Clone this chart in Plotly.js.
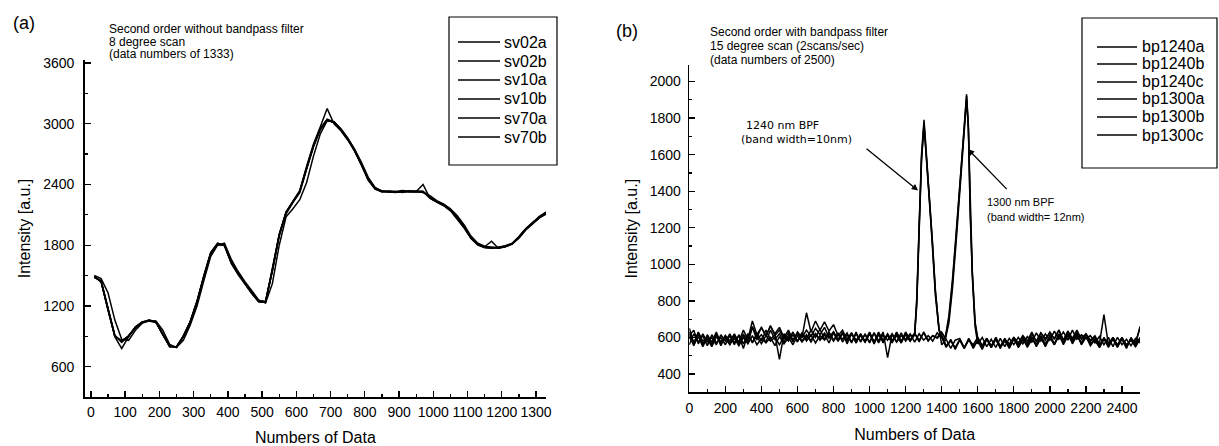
<!DOCTYPE html>
<html>
<head>
<meta charset="utf-8">
<script src="https://cdn.plot.ly/plotly-3.0.1.min.js"></script>
<style>
  html, body { margin: 0; padding: 0; background: #fff; }
  #chart { width: 1219px; height: 446px; }
</style>
</head>
<body>
<div id="chart"></div>
<script>
// ---------------- Panel (a): second order without bandpass filter ----------------
// sample positions (data numbers) for panel (a): every 20th data point from 10
const leftIndexStart = 10, leftIndexStep = 20, leftCount = 67;
const leftNames = ["sv02a", "sv02b", "sv10a", "sv10b", "sv70a", "sv70b"];

const sv02a = [1490, 1440, 1170, 900, 850, 900, 990, 1040, 1055, 1040,
               920, 800, 795, 900, 1040, 1240, 1490, 1720, 1810, 1800,
               1630, 1520, 1420, 1330, 1245, 1240, 1550, 1900, 2120, 2230,
               2330, 2560, 2780, 2950, 3040, 3010, 2940, 2850, 2740, 2600,
               2450, 2360, 2330, 2330, 2325, 2330, 2330, 2325, 2330, 2270,
               2230, 2200, 2150, 2070, 1980, 1870, 1810, 1780, 1775, 1775,
               1790, 1815, 1880, 1960, 2020, 2080, 2120];
const sv02b = [1500, 1470, 1330, 1060, 870, 860, 960, 1030, 1050, 1050,
               960, 820, 790, 860, 1010, 1200, 1450, 1690, 1800, 1820,
               1660, 1540, 1440, 1350, 1260, 1230, 1420, 1800, 2080, 2160,
               2250, 2420, 2680, 2900, 3030, 3020, 2950, 2860, 2750, 2620,
               2470, 2370, 2335, 2325, 2330, 2320, 2335, 2330, 2320, 2290,
               2240, 2205, 2160, 2090, 2000, 1890, 1820, 1790, 1780, 1770,
               1785, 1810, 1870, 1950, 2010, 2070, 2110];
const sv10a = [1480, 1450, 1180, 910, 840, 905, 985, 1035, 1060, 1045,
               915, 805, 790, 905, 1045, 1250, 1500, 1730, 1815, 1795,
               1620, 1510, 1415, 1320, 1240, 1235, 1560, 1910, 2130, 2240,
               2340, 2580, 2800, 2970, 3150, 3000, 2930, 2840, 2730, 2590,
               2440, 2355, 2325, 2335, 2330, 2340, 2330, 2330, 2400, 2265,
               2225, 2190, 2140, 2060, 1970, 1865, 1800, 1775, 1770, 1780,
               1795, 1820, 1885, 1965, 2025, 2085, 2130];
const sv10b = [1495, 1435, 1160, 895, 780, 895, 995, 1045, 1050, 1035,
               925, 795, 800, 895, 1035, 1235, 1485, 1715, 1805, 1805,
               1635, 1525, 1425, 1335, 1250, 1245, 1545, 1890, 2110, 2220,
               2320, 2550, 2770, 2940, 3030, 3020, 2945, 2855, 2745, 2605,
               2455, 2365, 2335, 2325, 2320, 2335, 2325, 2325, 2325, 2275,
               2235, 2205, 2155, 2075, 1985, 1875, 1815, 1785, 1840, 1770,
               1785, 1810, 1875, 1955, 2015, 2075, 2115];
const sv70a = [1485, 1445, 1175, 905, 855, 905, 990, 1040, 1060, 1040,
               920, 800, 790, 900, 1040, 1245, 1495, 1725, 1820, 1800,
               1625, 1515, 1420, 1325, 1240, 1240, 1555, 1905, 2125, 2235,
               2335, 2565, 2785, 2955, 3045, 3015, 2945, 2845, 2735, 2595,
               2445, 2360, 2330, 2330, 2330, 2325, 2335, 2330, 2330, 2265,
               2225, 2195, 2145, 2065, 1975, 1870, 1805, 1780, 1775, 1780,
               1790, 1815, 1880, 1960, 2020, 2080, 2125];
const sv70b = [1490, 1440, 1165, 900, 850, 900, 985, 1035, 1055, 1045,
               920, 805, 795, 900, 1040, 1240, 1490, 1720, 1810, 1800,
               1630, 1520, 1420, 1330, 1245, 1240, 1550, 1900, 2120, 2230,
               2330, 2560, 2780, 2950, 3040, 3010, 2940, 2850, 2740, 2600,
               2450, 2360, 2330, 2330, 2325, 2330, 2330, 2325, 2330, 2270,
               2230, 2200, 2150, 2070, 1980, 1870, 1810, 1780, 1775, 1775,
               1790, 1815, 1880, 1960, 2020, 2080, 2120];
const leftSeries = [sv02a, sv02b, sv10a, sv10b, sv70a, sv70b];
const leftXTicks = [0,100,200,300,400,500,600,700,800,900,1000,1100,1200,1300];
const leftYTicks = [600, 1200, 1800, 2400, 3000, 3600];

// ---------------- Panel (b): second order with bandpass filter ----------------
// baseline sampled every 25th data point from 0 to 2500
const rightIndexStep = 25, rightCount = 101;
const rightNames = ["bp1240a", "bp1240b", "bp1240c", "bp1300a", "bp1300b", "bp1300c"];

const bp1240aBase = [650, 570, 625, 560, 615, 575, 630, 565, 610, 580,
                     620, 570, 615, 585, 660, 600, 655, 605, 665, 610,
                     640, 590, 625, 575, 630, 600, 735, 630, 690, 640,
                     685, 635, 670, 610, 640, 585, 625, 570, 620, 575,
                     625, 565, 615, 580, 620, 575, 610, 570, 625, 580,
                     620, 700, 650, 600, 610, 600, 560, 590, 540, 585,
                     595, 545, 590, 540, 585, 555, 595, 545, 600, 550,
                     585, 540, 590, 555, 600, 545, 590, 560, 605, 550,
                     600, 560, 610, 570, 620, 575, 615, 565, 605, 555,
                     590, 545, 600, 550, 590, 560, 600, 545, 595, 550,
                     600];
const bp1240bBase = [610, 640, 565, 620, 575, 600, 560, 615, 580, 620,
                     570, 610, 540, 620, 570, 625, 580, 640, 590, 615,
                     480, 620, 585, 630, 580, 625, 590, 640, 600, 645,
                     590, 630, 585, 625, 575, 615, 570, 630, 575, 620,
                     570, 625, 580, 630, 490, 620, 575, 625, 580, 610,
                     600, 600, 600, 600, 600, 600, 600, 545, 590, 535,
                     585, 540, 595, 550, 580, 535, 590, 555, 595, 540,
                     590, 550, 600, 545, 585, 560, 605, 550, 595, 555,
                     615, 565, 620, 560, 610, 575, 625, 560, 600, 570,
                     580, 550, 595, 545, 600, 555, 590, 540, 600, 560,
                     595];
const bp1240cBase = [600, 565, 630, 580, 600, 560, 620, 575, 610, 560,
                     615, 575, 640, 590, 690, 615, 655, 610, 660, 620,
                     655, 600, 640, 585, 625, 580, 615, 575, 620, 585,
                     615, 570, 625, 580, 630, 565, 620, 585, 610, 575,
                     625, 570, 630, 580, 615, 575, 625, 570, 615, 580,
                     600, 600, 600, 600, 600, 600, 610, 555, 580, 545,
                     590, 540, 585, 560, 600, 545, 595, 550, 590, 545,
                     580, 555, 595, 550, 590, 555, 600, 560, 610, 565,
                     605, 560, 615, 570, 625, 565, 610, 570, 620, 560,
                     595, 545, 590, 560, 600, 550, 595, 555, 590, 575,
                     650];
const bp1300aBase = [630, 560, 605, 550, 600, 565, 615, 555, 605, 570,
                     595, 555, 600, 565, 610, 560, 595, 570, 600, 555,
                     605, 565, 600, 560, 610, 575, 605, 585, 620, 590,
                     625, 595, 630, 590, 625, 580, 620, 585, 615, 575,
                     620, 575, 625, 570, 615, 580, 625, 575, 630, 585,
                     620, 585, 625, 580, 610, 600, 630, 600, 600, 600,
                     600, 600, 600, 600, 600, 555, 595, 545, 590, 550,
                     595, 550, 600, 560, 605, 565, 620, 580, 625, 585,
                     630, 590, 640, 585, 635, 595, 640, 590, 620, 585,
                     610, 565, 725, 560, 600, 550, 595, 560, 585, 550,
                     590];
const bp1300bBase = [560, 620, 575, 610, 555, 615, 570, 600, 560, 610,
                     560, 615, 565, 620, 575, 605, 565, 610, 580, 600,
                     560, 605, 580, 615, 575, 625, 580, 615, 570, 610,
                     585, 620, 580, 615, 590, 625, 575, 620, 580, 615,
                     575, 625, 570, 615, 585, 620, 575, 610, 590, 620,
                     575, 620, 585, 610, 580, 625, 600, 600, 600, 600,
                     600, 600, 600, 600, 565, 600, 550, 590, 545, 595,
                     550, 595, 560, 600, 565, 605, 575, 625, 580, 620,
                     585, 635, 590, 630, 585, 640, 590, 615, 595, 610,
                     570, 605, 560, 600, 550, 600, 560, 590, 555, 595,
                     570];
const bp1300cBase = [610, 555, 620, 565, 590, 550, 605, 570, 595, 560,
                     610, 560, 615, 570, 655, 590, 615, 575, 640, 590,
                     620, 575, 610, 585, 625, 600, 640, 605, 650, 615,
                     655, 600, 630, 580, 620, 590, 625, 570, 620, 580,
                     630, 575, 620, 585, 610, 570, 630, 580, 620, 585,
                     625, 575, 630, 585, 610, 595, 620, 600, 600, 600,
                     600, 600, 600, 600, 575, 550, 590, 545, 600, 550,
                     590, 565, 600, 570, 610, 580, 630, 575, 625, 595,
                     625, 595, 640, 585, 630, 590, 625, 600, 615, 580,
                     600, 555, 595, 570, 590, 545, 600, 555, 590, 560,
                     660];

// finer samples across the transmission peaks
const peak1240X = [1250, 1262, 1275, 1288, 1302, 1315, 1330, 1347, 1365, 1385];
const peak1240a = [620, 820, 1220, 1600, 1790, 1620, 1390, 1150, 860, 650];
const peak1240b = [610, 780, 1180, 1560, 1760, 1600, 1370, 1120, 830, 640];
const peak1240c = [615, 800, 1200, 1580, 1770, 1610, 1380, 1140, 850, 645];
const peak1300X = [1420, 1440, 1460, 1480, 1495, 1510, 1525, 1538, 1548, 1558, 1570, 1585];
const peak1300a = [595, 700, 900, 1150, 1350, 1500, 1750, 1930, 1760, 1300, 950, 680];
const peak1300b = [590, 680, 870, 1120, 1320, 1480, 1720, 1900, 1740, 1280, 930, 660];
const peak1300c = [600, 720, 920, 1170, 1370, 1520, 1760, 1920, 1750, 1310, 960, 690];

const rightBases = [bp1240aBase, bp1240bBase, bp1240cBase, bp1300aBase, bp1300bBase, bp1300cBase];
const rightPeakX = [peak1240X, peak1240X, peak1240X, peak1300X, peak1300X, peak1300X];
const rightPeakY = [peak1240a, peak1240b, peak1240c, peak1300a, peak1300b, peak1300c];
const rightXTicks = [0,200,400,600,800,1000,1200,1400,1600,1800,2000,2200,2400];
const rightYTicks = [400,600,800,1000,1200,1400,1600,1800,2000];

// ---------------- build traces ----------------
const W = 1219, H = 446;
const px = v => v / W;
const py = v => 1 - v / H;

const leftX = [];
for (let i = 0; i < leftCount; i++) leftX.push(leftIndexStart + i * leftIndexStep);
const rightGrid = [];
for (let i = 0; i < rightCount; i++) rightGrid.push(i * rightIndexStep);

function mergePeak(gx, gy, pkx, pky) {
  const lo = pkx[0], hi = pkx[pkx.length - 1];
  const pts = [];
  gx.forEach((x, i) => { if (x < lo || x > hi) pts.push([x, gy[i]]); });
  pkx.forEach((x, i) => pts.push([x, pky[i]]));
  pts.sort((a, b) => a[0] - b[0]);
  return { x: pts.map(p => p[0]), y: pts.map(p => p[1]) };
}

const traces = [];
leftSeries.forEach((ys, k) => {
  traces.push({
    type: 'scatter', mode: 'lines', name: leftNames[k],
    x: leftX, y: ys, xaxis: 'x', yaxis: 'y', showlegend: false,
    line: { color: '#000', width: 1.5 }
  });
});
rightBases.forEach((ys, k) => {
  const m = mergePeak(rightGrid, ys, rightPeakX[k], rightPeakY[k]);
  traces.push({
    type: 'scatter', mode: 'lines', name: rightNames[k],
    x: m.x, y: m.y, xaxis: 'x2', yaxis: 'y2', showlegend: false,
    line: { color: '#000', width: 1.5 }
  });
});

const tickFont = { family: 'Arial, "Liberation Sans", sans-serif', size: 14, color: '#000' };
const titleFont = { family: 'Arial, "Liberation Sans", sans-serif', size: 16, color: '#000' };

function axis(extra) {
  return Object.assign({
    showgrid: false, zeroline: false, showline: true, linecolor: '#000', linewidth: 1.6,
    ticks: 'inside', ticklen: 6, tickwidth: 1.3, tickcolor: '#000',
    tickfont: tickFont, mirror: false, fixedrange: true
  }, extra);
}

const layout = {
  width: W, height: H,
  margin: { l: 0, r: 0, t: 0, b: 0 },
  paper_bgcolor: '#fff', plot_bgcolor: 'rgba(0,0,0,0)',
  showlegend: false,
  xaxis: axis({
    domain: [px(84.7), px(546)], range: [-18, 1329], anchor: 'y',
    tickmode: 'array', tickvals: leftXTicks, ticklabelstandoff: 2,
    minor: { ticks: 'inside', dtick: 50, tick0: 0, ticklen: 3, tickcolor: '#000' },
    title: { text: 'Numbers of Data', font: titleFont, standoff: 14 }
  }),
  yaxis: axis({
    domain: [py(397), py(60)], range: [300, 3630], anchor: 'x',
    tickmode: 'array', tickvals: leftYTicks, ticklabelstandoff: 6,
    minor: { ticks: 'inside', dtick: 300, tick0: 0, ticklen: 3, tickcolor: '#000' },
    title: { text: 'Intensity [a.u.]', font: titleFont, standoff: 8 }
  }),
  xaxis2: axis({
    domain: [px(689.3), px(1140)], range: [0, 2500], anchor: 'y2',
    tickmode: 'array', tickvals: rightXTicks, ticklabelstandoff: 2,
    minor: { ticks: 'inside', dtick: 100, tick0: 0, ticklen: 3, tickcolor: '#000' },
    title: { text: 'Numbers of Data', font: titleFont, standoff: 14 }
  }),
  yaxis2: axis({
    domain: [py(392.3), py(65)], range: [300, 2090], anchor: 'x2',
    tickmode: 'array', tickvals: rightYTicks, ticklabelstandoff: 4,
    minor: { ticks: 'inside', dtick: 100, tick0: 0, ticklen: 3, tickcolor: '#000' },
    title: { text: 'Intensity [a.u.]', font: titleFont, standoff: 8 }
  }),
  shapes: [
    { type: 'rect', xref: 'paper', yref: 'paper', x0: px(449), x1: px(557), y0: py(165), y1: py(17),
      line: { color: '#000', width: 1.2 }, fillcolor: 'rgba(0,0,0,0)' },
    { type: 'rect', xref: 'paper', yref: 'paper', x0: px(1082), x1: px(1217), y0: py(168), y1: py(18),
      line: { color: '#000', width: 1.2 }, fillcolor: 'rgba(0,0,0,0)' }
  ],
  annotations: []
};

const noteFont = { family: 'Arial, "Liberation Sans", sans-serif', size: 12, color: '#000' };
function note(text, x, y, font, anchor) {
  layout.annotations.push({
    xref: 'paper', yref: 'paper', x: px(x), y: py(y), text: text, showarrow: false,
    xanchor: anchor || 'left', yanchor: 'middle', font: font || noteFont
  });
}

// legend boxes (series names drawn from the name arrays)
const legendFont = { family: 'Arial, "Liberation Sans", sans-serif', size: 16, color: '#000' };
const leftLegendRows = [42, 61, 80, 99, 118, 137];
const rightLegendRows = [47, 64, 82, 99, 117, 135];
leftNames.forEach((n, i) => {
  layout.shapes.push({ type: 'line', xref: 'paper', yref: 'paper',
    x0: px(458), x1: px(500), y0: py(leftLegendRows[i]), y1: py(leftLegendRows[i]),
    line: { color: '#000', width: 1.3 } });
  note(n, 502, leftLegendRows[i], legendFont);
});
rightNames.forEach((n, i) => {
  layout.shapes.push({ type: 'line', xref: 'paper', yref: 'paper',
    x0: px(1097), x1: px(1137), y0: py(rightLegendRows[i]), y1: py(rightLegendRows[i]),
    line: { color: '#000', width: 1.3 } });
  note(n, 1140, rightLegendRows[i], legendFont);
});

const panelFont = { family: 'Arial, "Liberation Sans", sans-serif', size: 18, color: '#000' };
note('(a)', 24, 23, panelFont, 'center');
note('(b)', 627, 31, panelFont, 'center');
note('Second order without bandpass filter', 107, 29);
note('8 degree scan', 107, 42);
note('(data numbers of 1333)', 107, 54);
note('Second order with bandpass filter', 708, 32);
note('15 degree scan (2scans/sec)', 708, 46);
note('(data numbers of 2500)', 708, 60);

const bpfFont = { family: '"DejaVu Sans", Verdana, sans-serif', size: 11, color: '#000' };
note('1240 nm BPF', 744, 125, bpfFont);
note('(band width=10nm)', 739, 139, bpfFont);
const bpf2Font = { family: 'Arial, "Liberation Sans", sans-serif', size: 11, color: '#000' };
note('1300 nm BPF', 985, 202, bpf2Font);
note('(band width= 12nm)', 985, 217, bpf2Font);

// arrows pointing at the two peaks (data coordinates of panel b)
layout.annotations.push({
  xref: 'x2', yref: 'y2', x: 1269, y: 1403, axref: 'x2', ayref: 'y2', ax: 975, ay: 1638,
  text: '', showarrow: true, arrowhead: 2, arrowsize: 1, arrowwidth: 1.3, arrowcolor: '#000'
});
layout.annotations.push({
  xref: 'x2', yref: 'y2', x: 1545, y: 1630, axref: 'x2', ayref: 'y2', ax: 1769, ay: 1403,
  text: '', showarrow: true, arrowhead: 2, arrowsize: 1, arrowwidth: 1.3, arrowcolor: '#000'
});

Plotly.newPlot('chart', traces, layout, { displayModeBar: false, staticPlot: true });
</script>
</body>
</html>
